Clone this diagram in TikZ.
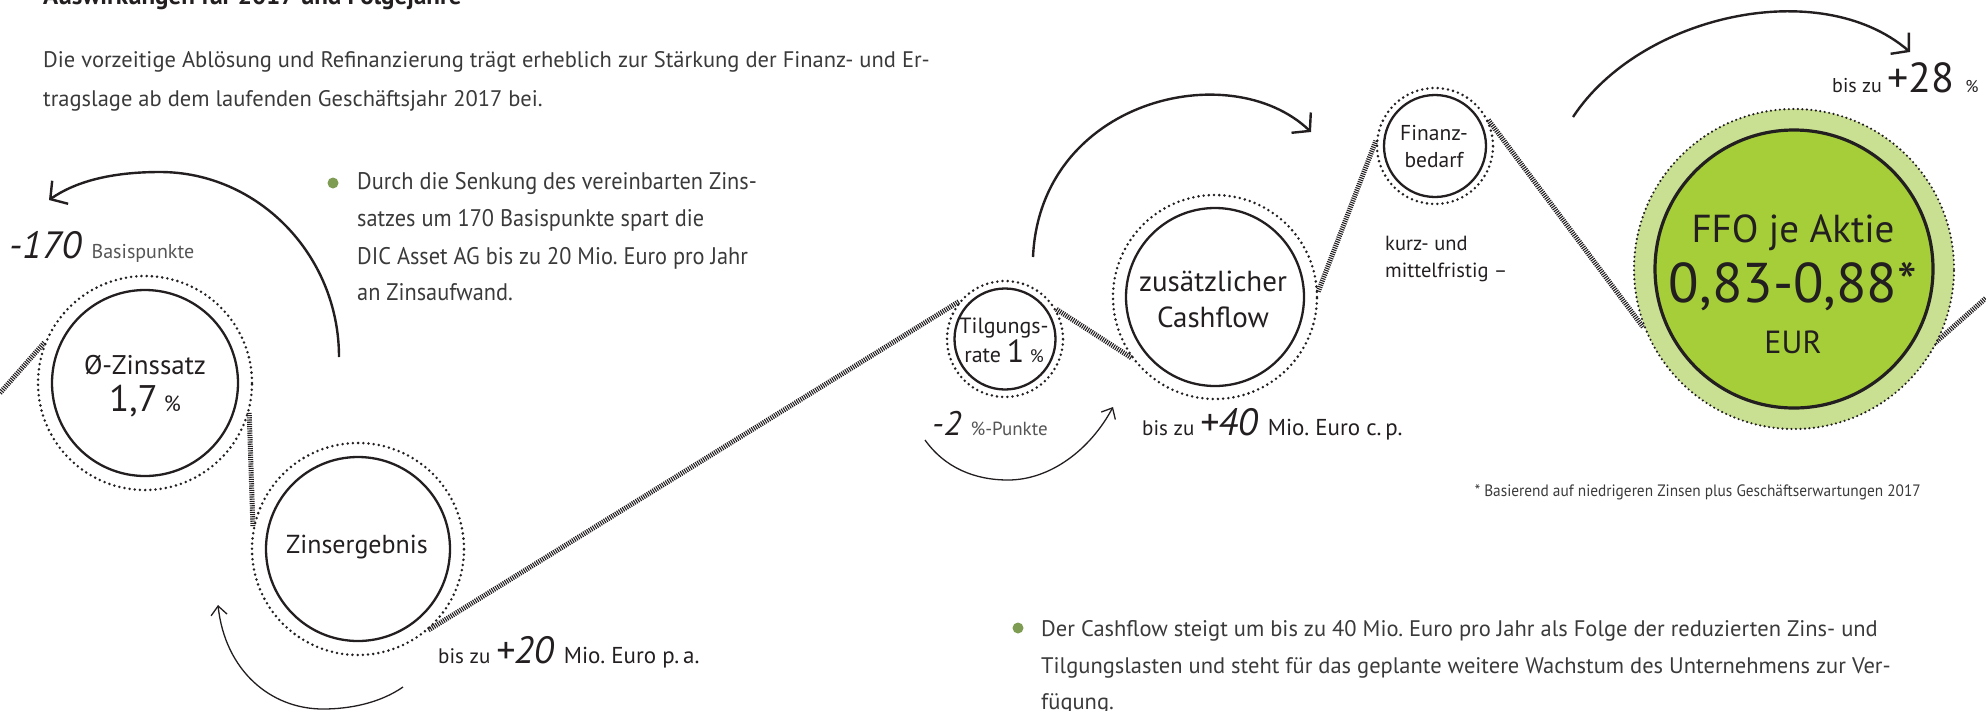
\documentclass[tikz,border=0pt]{standalone}
\usepackage{fontspec}
\setmainfont{PT Sans}
\newfontfamily\cond[FakeStretch=0.93]{PT Sans}
\usetikzlibrary{arrows.meta}
\definecolor{txt}{HTML}{231F20}
\definecolor{body}{HTML}{3A3A3A}
\definecolor{gry}{HTML}{555555}
\definecolor{ffoin}{HTML}{A6CE39}
\definecolor{ffoout}{HTML}{C9E092}
\definecolor{bul}{HTML}{7E9C52}
\newcommand{\fs}[1]{\fontsize{#1}{#1}\selectfont}
\frenchspacing
\begin{document}
\begin{tikzpicture}[x=1pt,y=-1pt,
  ring/.style={circle,draw=txt,line width=2.8pt,dash pattern=on 0pt off 5.2pt,line cap=round,inner sep=0pt},
  core/.style={circle,draw=txt,line width=2.3pt,inner sep=0pt},
  hatch/.style={draw=txt,line width=5pt,dash pattern=on 1.1pt off 1.1pt},
  sarrow/.style={draw=txt,line width=2.4pt,-{Straight Barb[length=12pt,width=28pt,line width=2.4pt]}},
  tarrow/.style={draw=txt,line width=1.3pt,-{Straight Barb[length=9pt,width=16pt,line width=1.3pt]}},
  lbl/.style={anchor=base west,inner sep=0pt,text=txt},
  ctr/.style={anchor=base,inner sep=0pt,text=txt},
  bodytxt/.style={anchor=base west,inner sep=0pt,text=body,font=\fs{22.5}},
  bullet/.style={circle,fill=bul,inner sep=0pt,minimum size=11pt},
]
\useasboundingbox (0,0) rectangle (1986,710);
\clip (0,0) rectangle (1986,710);

% title (cut off at the top) and intro
\node[anchor=base west,inner sep=0pt,text=txt,font=\fs{25}\bfseries] (title) at (43,4) {Auswirkungen für 2017 und Folgejahre};
\node[bodytxt] (p1) at (43,67) {Die vorzeitige Ablösung und Refinanzierung trägt erheblich zur Stärkung der Finanz- und Er-};
\node[bodytxt] (p2) at (43,106) {tragslage ab dem laufenden Geschäftsjahr 2017 bei.};

% circles
\node[ring,minimum size=214pt] (zo) at (145,383) {};
\node[core,minimum size=186pt] (zi) at (145,383) {};
\node[ring,minimum size=212pt] (eo) at (358,549) {};
\node[core,minimum size=184pt] (ei) at (358,549) {};
\node[ring,minimum size=116pt] (to) at (1005,339) {};
\node[core,minimum size=101pt] (ti) at (1005,339) {};
\node[ring,minimum size=204pt] (co) at (1215,297) {};
\node[core,minimum size=178pt] (ci) at (1215,297) {};
\node[ring,minimum size=116pt] (fo) at (1435,146) {};
\node[core,minimum size=102pt] (fi) at (1435,146) {};

% hatched belt
\coordinate (h0) at (0,393);
\coordinate (h1) at (1986,298);
\draw[hatch] (h0) -- (zo.158.6) (zo.-16.4) -- (eo.168) (eo.-49.6) -- (to.141.4)
  (to.30.5) -- (co.216.6) (co.3.8) -- (fo.175) (fo.26.6) -- (1643,327)
  (1927,350) -- (h1);

% FFO circle
\node[circle,fill=ffoout,draw=txt,line width=2.4pt,dash pattern=on 0pt off 4.5pt,line cap=round,minimum size=320pt,inner sep=0pt] (ffoo) at (1794,269) {};
\node[circle,fill=ffoin,draw=txt,line width=3.2pt,minimum size=278pt,inner sep=0pt] (ffoi) at (1794,269) {};
\node[ctr,font=\fs{39}] (ffo1) at (1793,242) {FFO je Aktie};
\node[ctr,font=\fs{56}] (ffo2) at (1793,302) {0,83-0,88*};
\node[ctr,font=\fs{32}] (ffo3) at (1793,353) {EUR};

% circle texts
\node[ctr,font=\fs{27}] (zt1) at (145,374) {Ø-Zinssatz};
\node[ctr] (zt2) at (145,411) {\fs{37}1,7\,\fs{22}\%};
\node[ctr,font=\fs{26}] (et1) at (357,553) {Zinsergebnis};
\node[ctr,font=\fs{22}] (tt1) at (1004,333) {Tilgungs-};
\node[ctr] (tt2) at (1004,362) {\fs{22}rate \fs{32}1\,\fs{18}\%};
\node[ctr,font=\fs{29}] (ct1) at (1213,291) {zusätzlicher};
\node[ctr,font=\fs{29}] (ct2) at (1213,327) {Cashflow};
\node[ctr,font=\fs{21.5}] (ft1) at (1434,140) {Finanz-};
\node[ctr,font=\fs{21.5}] (ft2) at (1434,167) {bedarf};
\node[lbl,font=\fs{20.5}] (k1) at (1385,250) {kurz- und};
\node[lbl,font=\fs{20.5}] (k2) at (1385,277) {mittelfristig –};

% value labels
\node[lbl] (m170) at (9,258) {\fs{38}\itshape -170 \upshape\color{gry}\fs{20}Basispunkte};
\node[lbl] (p20) at (438,663) {\fs{21}bis zu \fs{38}\itshape +20 \upshape\fs{23}Mio. Euro p.\,a.};
\node[lbl] (m2) at (932,435) {\fs{34}\itshape -2 \upshape\color{gry}\fs{19}\%-Punkte};
\node[lbl] (p40) at (1142,435) {\fs{21}bis zu \fs{38}\itshape +40 \upshape\fs{23}Mio. Euro c.\,p.};
\node[lbl] (p28) at (1832,92) {\fs{20}bis zu \fs{42}+28 \fs{17}\%};

% arrows
\coordinate (a1s) at (339,357); \coordinate (a1m) at (160,172); \coordinate (a1e) at (49,200);
\draw[sarrow] (a1s) .. controls (339,255) and (258,172) .. (a1m) .. controls (110,172) and (75,182) .. (a1e);
\coordinate (a2s) at (403,687); \coordinate (a2m) at (323,709); \coordinate (a2e) at (218,605);
\draw[tarrow] (a2s) .. controls (380,703) and (350,709) .. (a2m) .. controls (270,709) and (225,670) .. (a2e);
\coordinate (a3s) at (925,440); \coordinate (a3m) at (1008,480); \coordinate (a3e) at (1113,407);
\draw[tarrow] (a3s) .. controls (945,468) and (975,480) .. (a3m) .. controls (1050,480) and (1090,450) .. (a3e);
\coordinate (a4s) at (1033,257); \coordinate (a4e) at (1311,132);
\draw[sarrow] (a4s) .. controls (1040,100) and (1230,55) .. (a4e);
\coordinate (a5s) at (1573,117); \coordinate (a5e) at (1910,52);
\draw[sarrow] (a5s) .. controls (1640,15) and (1820,-25) .. (a5e);

% bullet 1
\node[bullet] (b1) at (333,183) {};
\node[anchor=base west,inner sep=0pt,text=body,font=\cond\fs{24}] (b1l1) at (357,189) {Durch die Senkung des vereinbarten Zins-};
\node[anchor=base west,inner sep=0pt,text=body,font=\cond\fs{24}] (b1l2) at (357,226) {satzes um 170 Basispunkte spart die};
\node[anchor=base west,inner sep=0pt,text=body,font=\cond\fs{24}] (b1l3) at (357,264) {DIC Asset AG bis zu 20 Mio. Euro pro Jahr};
\node[anchor=base west,inner sep=0pt,text=body,font=\cond\fs{24}] (b1l4) at (357,300) {an Zinsaufwand.};

% footnote
\node[anchor=base east,inner sep=0pt,text=body,font=\cond\fs{16.5}] (fn) at (1921,496) {* Basierend auf niedrigeren Zinsen plus Geschäftserwartungen 2017};

% bullet 2
\node[bullet] (b2) at (1018,628) {};
\node[bodytxt] (b2l1) at (1041,636) {Der Cashflow steigt um bis zu 40 Mio. Euro pro Jahr als Folge der reduzierten Zins- und};
\node[bodytxt] (b2l2) at (1041,673) {Tilgungslasten und steht für das geplante weitere Wachstum des Unternehmens zur Ver-};
\node[bodytxt] (b2l3) at (1041,709) {fügung.};
\end{tikzpicture}
\end{document}
